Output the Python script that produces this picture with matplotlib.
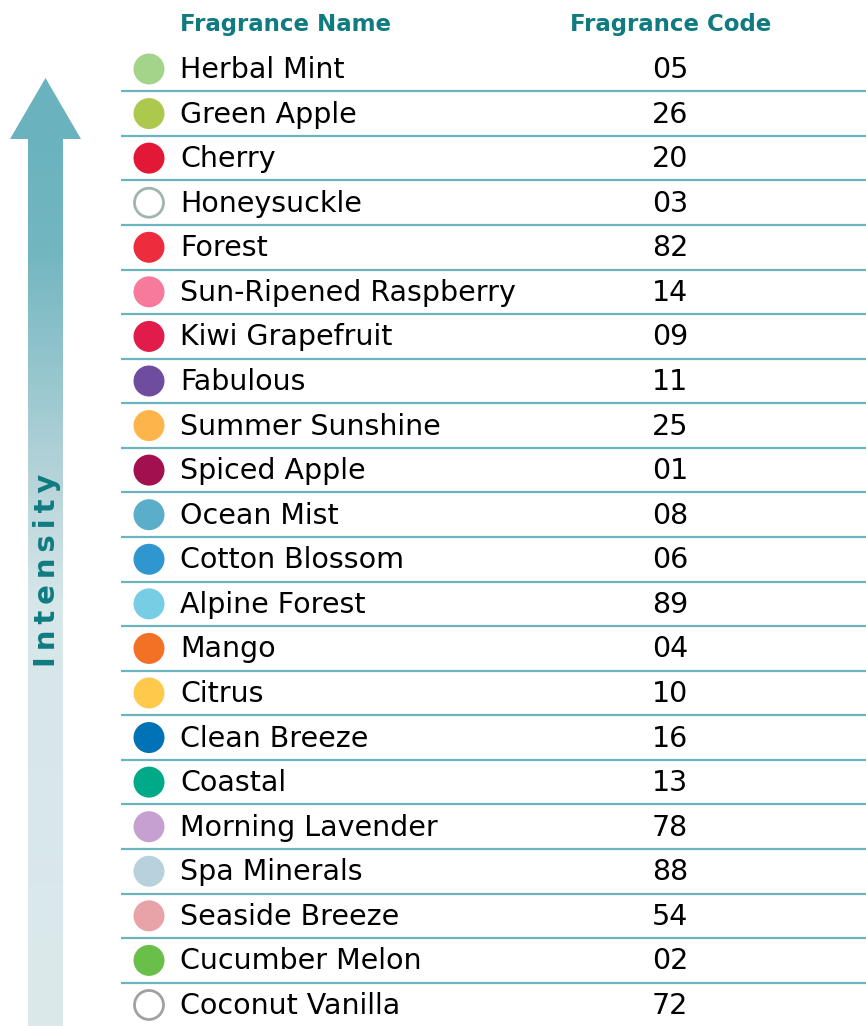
#!/usr/bin/env python3
# Fragrance intensity table

import numpy as np
import matplotlib
matplotlib.use('Agg')
import matplotlib.pyplot as plt
from matplotlib.patches import Circle, Polygon
from matplotlib.colors import LinearSegmentedColormap

names = ['Herbal Mint', 'Green Apple', 'Cherry', 'Honeysuckle', 'Forest',
         'Sun-Ripened Raspberry', 'Kiwi Grapefruit', 'Fabulous', 'Summer Sunshine',
         'Spiced Apple', 'Ocean Mist', 'Cotton Blossom', 'Alpine Forest', 'Mango',
         'Citrus', 'Clean Breeze', 'Coastal', 'Morning Lavender', 'Spa Minerals',
         'Seaside Breeze', 'Cucumber Melon', 'Coconut Vanilla']
codes = ['05', '26', '20', '03', '82', '14', '09', '11', '25', '01', '08', '06',
         '89', '04', '10', '16', '13', '78', '88', '54', '02', '72']
dot_colors = ['#a3d48a', '#acc94d', '#e31837', 'white', '#ec2d3d', '#f77a9c',
              '#e21c4a', '#6e4c9e', '#fdb44b', '#a3104f', '#5aaec9', '#2f96cf',
              '#77cde3', '#f27125', '#ffc94b', '#0072b6', '#00a988', '#c6a0d0',
              '#b8d2dd', '#e8a3a8', '#6abf4b', 'white']
edge_colors = {3: '#9fb5ae', 21: '#a0a0a5'}

TEAL = '#0f7b80'
LINE = '#6ab4bf'
W, H = 866, 1026

fig = plt.figure(figsize=(W / 100, H / 100), dpi=100)
ax = fig.add_axes([0, 0, 1, 1])
ax.axis('off')

# rows
y0, dy = 69, 44.57
for i, (n, c, col) in enumerate(zip(names, codes, dot_colors)):
    y = y0 + i * dy
    ec = edge_colors.get(i, col)
    ax.add_patch(Circle((149, y), 14.5 if i in edge_colors else 15.5,
                        facecolor=col, edgecolor=ec, lw=2 if i in edge_colors else 0))
    ax.text(180, y + 1, n, fontsize=20.5, va='center', ha='left', color='black')
    ax.text(670, y + 1, c, fontsize=20.5, va='center', ha='center', color='black')
    if i < len(names) - 1:
        ax.plot([121, W], [y + dy / 2, y + dy / 2], color=LINE, lw=1.6,
                solid_capstyle='butt')

ax.text(180, 25, 'Fragrance Name', fontsize=16.5, fontweight='bold', color=TEAL,
        va='center', ha='left')
ax.text(671, 25, 'Fragrance Code', fontsize=16.5, fontweight='bold', color=TEAL,
        va='center', ha='center')

# intensity arrow
cmap = LinearSegmentedColormap.from_list(
    'arr', [(0, '#6ab3be'), (0.125, '#72b6c0'), (0.37, '#b3d2d8'),
            (0.52, '#d6e6e9'), (1, '#dbe9eb')])
grad = np.linspace(0, 1, 256).reshape(-1, 1)
ax.imshow(grad, cmap=cmap, extent=[28, 63, H, 139], aspect='auto', zorder=1)
ax.add_patch(Polygon([[10, 139], [81, 139], [45.5, 78]], closed=True,
                     facecolor='#6ab3be', edgecolor='none', zorder=2))
ax.set_xlim(0, W)
ax.set_ylim(H, 0)

ax.text(47, 570, '\u2009'.join('Intensity'), rotation=90, fontsize=21,
        fontweight='bold', color=TEAL, va='center', ha='center', zorder=3)

fig.savefig('out.png', dpi=100)
